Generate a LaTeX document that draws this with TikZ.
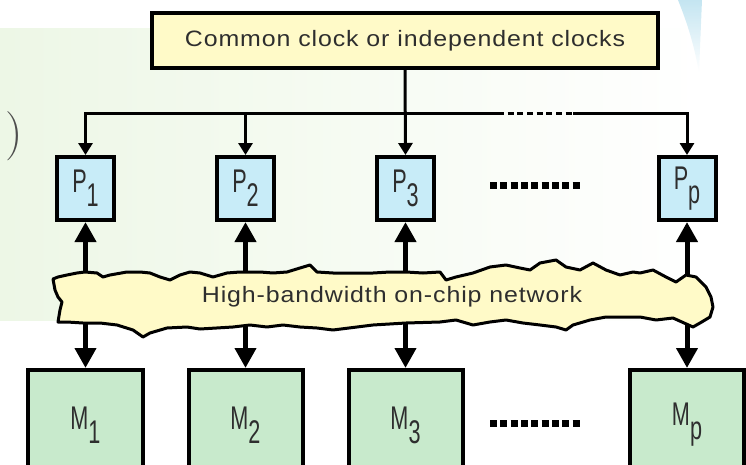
\documentclass[tikz,border=0pt]{standalone}
\usepackage{fontspec}
\usepackage{tikz}
\usetikzlibrary{calc,arrows.meta,positioning}
\newfontfamily\figfont[FakeStretch=1.12,LetterSpace=4]{Liberation Sans}
\newfontfamily\boxfont[FakeStretch=0.66]{Liberation Sans}
\definecolor{clockyellow}{HTML}{FFFAC8}
\definecolor{procblue}{HTML}{C8ECF8}
\definecolor{memgreen}{HTML}{C8EACC}
\definecolor{bggreen}{HTML}{EDF7E6}
\definecolor{swooshblue}{HTML}{C4E5F1}
\definecolor{inkgray}{HTML}{2E2E2E}
\newcommand{\lowr}[1]{\raisebox{-0.42em}{#1}}

\begin{document}
\begin{tikzpicture}[x=0.3mm,y=-0.3mm,
    box/.style={draw=black,line width=1.2mm,inner sep=0pt,text=inkgray},
    proc/.style={box,fill=procblue,minimum width=17.1mm,minimum height=18.9mm,font=\boxfont\fontsize{28}{28}\selectfont},
    mem/.style={box,fill=memgreen,minimum width=34.2mm,minimum height=33mm,font=\boxfont\fontsize{28}{28}\selectfont},
    clkline/.style={line width=0.9mm,-{Triangle[width=4.2mm,length=3.6mm]}},
    busline/.style={line width=1.5mm,{Triangle[width=6.2mm,length=6mm]}-{Triangle[width=6.2mm,length=6mm]}},
    dotrow/.style={line width=2.1mm,dash pattern=on 2.1mm off 1mm}]
            \useasboundingbox(0,0)rectangle(746,465);
            \clip(0,0)rectangle(746,465);
            % background
            \shade[left color=bggreen, right color=white](0,28)rectangle(700,320);
            \shade[top color=swooshblue, bottom color=white](678,0)..controls(688,25)and(694,45)..(699,72)to(702,0)--cycle;
            \node[font=\fontsize{42}{42}\selectfont, text=inkgray!85](paren)at(14,136){)};
            % clock
            \node[box, fill=clockyellow, minimum width=151.8mm, minimum height=16.5mm, font=\figfont\fontsize{19}{19}\selectfont](clock)at(405,40.5){Common clock or independent clocks};
            % processors
            \node[proc](P1)at(85.5,188.5){P\lowr{1}};
            \node[proc](P2)at(245.5,188.5){P\lowr{2}};
            \node[proc](P3)at(405.5,188.5){P\lowr{3}};
            \node[proc](Pp)at(687,188.5){P\lowr{p}};
            % memories
            \node[mem](M1)at(85.5,425){M\lowr{1}};
            \node[mem](M2)at(245.5,425){M\lowr{2}};
            \node[mem](M3)at(405.5,425){M\lowr{3}};
            \node[mem](Mp)at(687,425){M\lowr{p}};
            % clock lines
            \coordinate(bus)at(405.5,113);
            \coordinate(gapL)at(498,113);
            \coordinate(gapR)at(573,113);
            \path[draw, clkline](bus)-|(P1.north);
            \path[draw, clkline](bus -| P2.north)to(P2.north);
            \path[draw, clkline](clock.south)to(P3.north);
            \path[draw, line width=0.9mm](bus)to(gapL);
            \path[draw, line width=0.9mm, dash pattern=on 1.8mm off 1.1mm](gapL)to(gapR);
            \path[draw, clkline](gapR)-|(Pp.north);
            % processor to memory
            \path[draw, busline](P1.south)to(M1.north);
            \path[draw, busline](P2.south)to(M2.north);
            \path[draw, busline](P3.south)to(M3.north);
            \path[draw, busline](Pp.south)to(Mp.north);
            % network
            \path[draw, fill=clockyellow, line width=0.9mm, line join=round]
                (53,279)--(58,277)--(67,275)--(77,273)--(85,272)--(97,273)--(103,277)--(110,275)
                --(127,272)--(140,272)--(150,273)--(160,277)--(170,280)--(180,275)--(190,272)--(200,273)
                --(213,277)--(227,273)--(240,272)--(260,272)--(273,273)--(287,272)--(300,268)--(310,265)
                --(317,272)--(333,273)--(373,273)--(390,272)--(406,272)--(423,273)--(440,272)--(446,280)
                --(456,277)--(473,273)--(490,267)--(506,265)--(520,268)--(530,270)--(540,263)--(556,260)
                --(566,267)--(580,270)--(593,263)--(606,270)--(620,275)--(633,272)--(640,273)--(653,270)
                --(666,277)--(676,282)--(686,275)--(696,277)--(706,287)--(711,297)--(713,307)--(710,317)
                --(700,323)--(693,327)--(673,318)--(656,320)--(640,317)--(623,317)--(606,317)--(590,320)
                --(573,325)--(566,330)--(556,327)--(540,325)--(523,323)--(506,320)--(490,322)--(473,325)
                --(456,320)--(440,322)--(406,323)--(373,325)--(333,330)--(317,328)--(300,327)--(283,325)
                --(267,327)--(250,325)--(233,327)--(200,329)--(187,327)--(167,328)--(150,333)--(143,337)
                --(133,330)--(117,325)--(100,323)--(83,323)--(67,322)--(58,322)--(60,310)--(62,302)
                --(58,297)--(55,290)--cycle;
            \node[font=\figfont\fontsize{19}{19}\selectfont, text=inkgray](netlabel)at(392,297){High-bandwidth on-chip network};
            % dots
            \path[draw, dotrow](490,185)to(581,185);
            \path[draw, dotrow](490,423)to(581,423);
\end{tikzpicture}
\end{document}
